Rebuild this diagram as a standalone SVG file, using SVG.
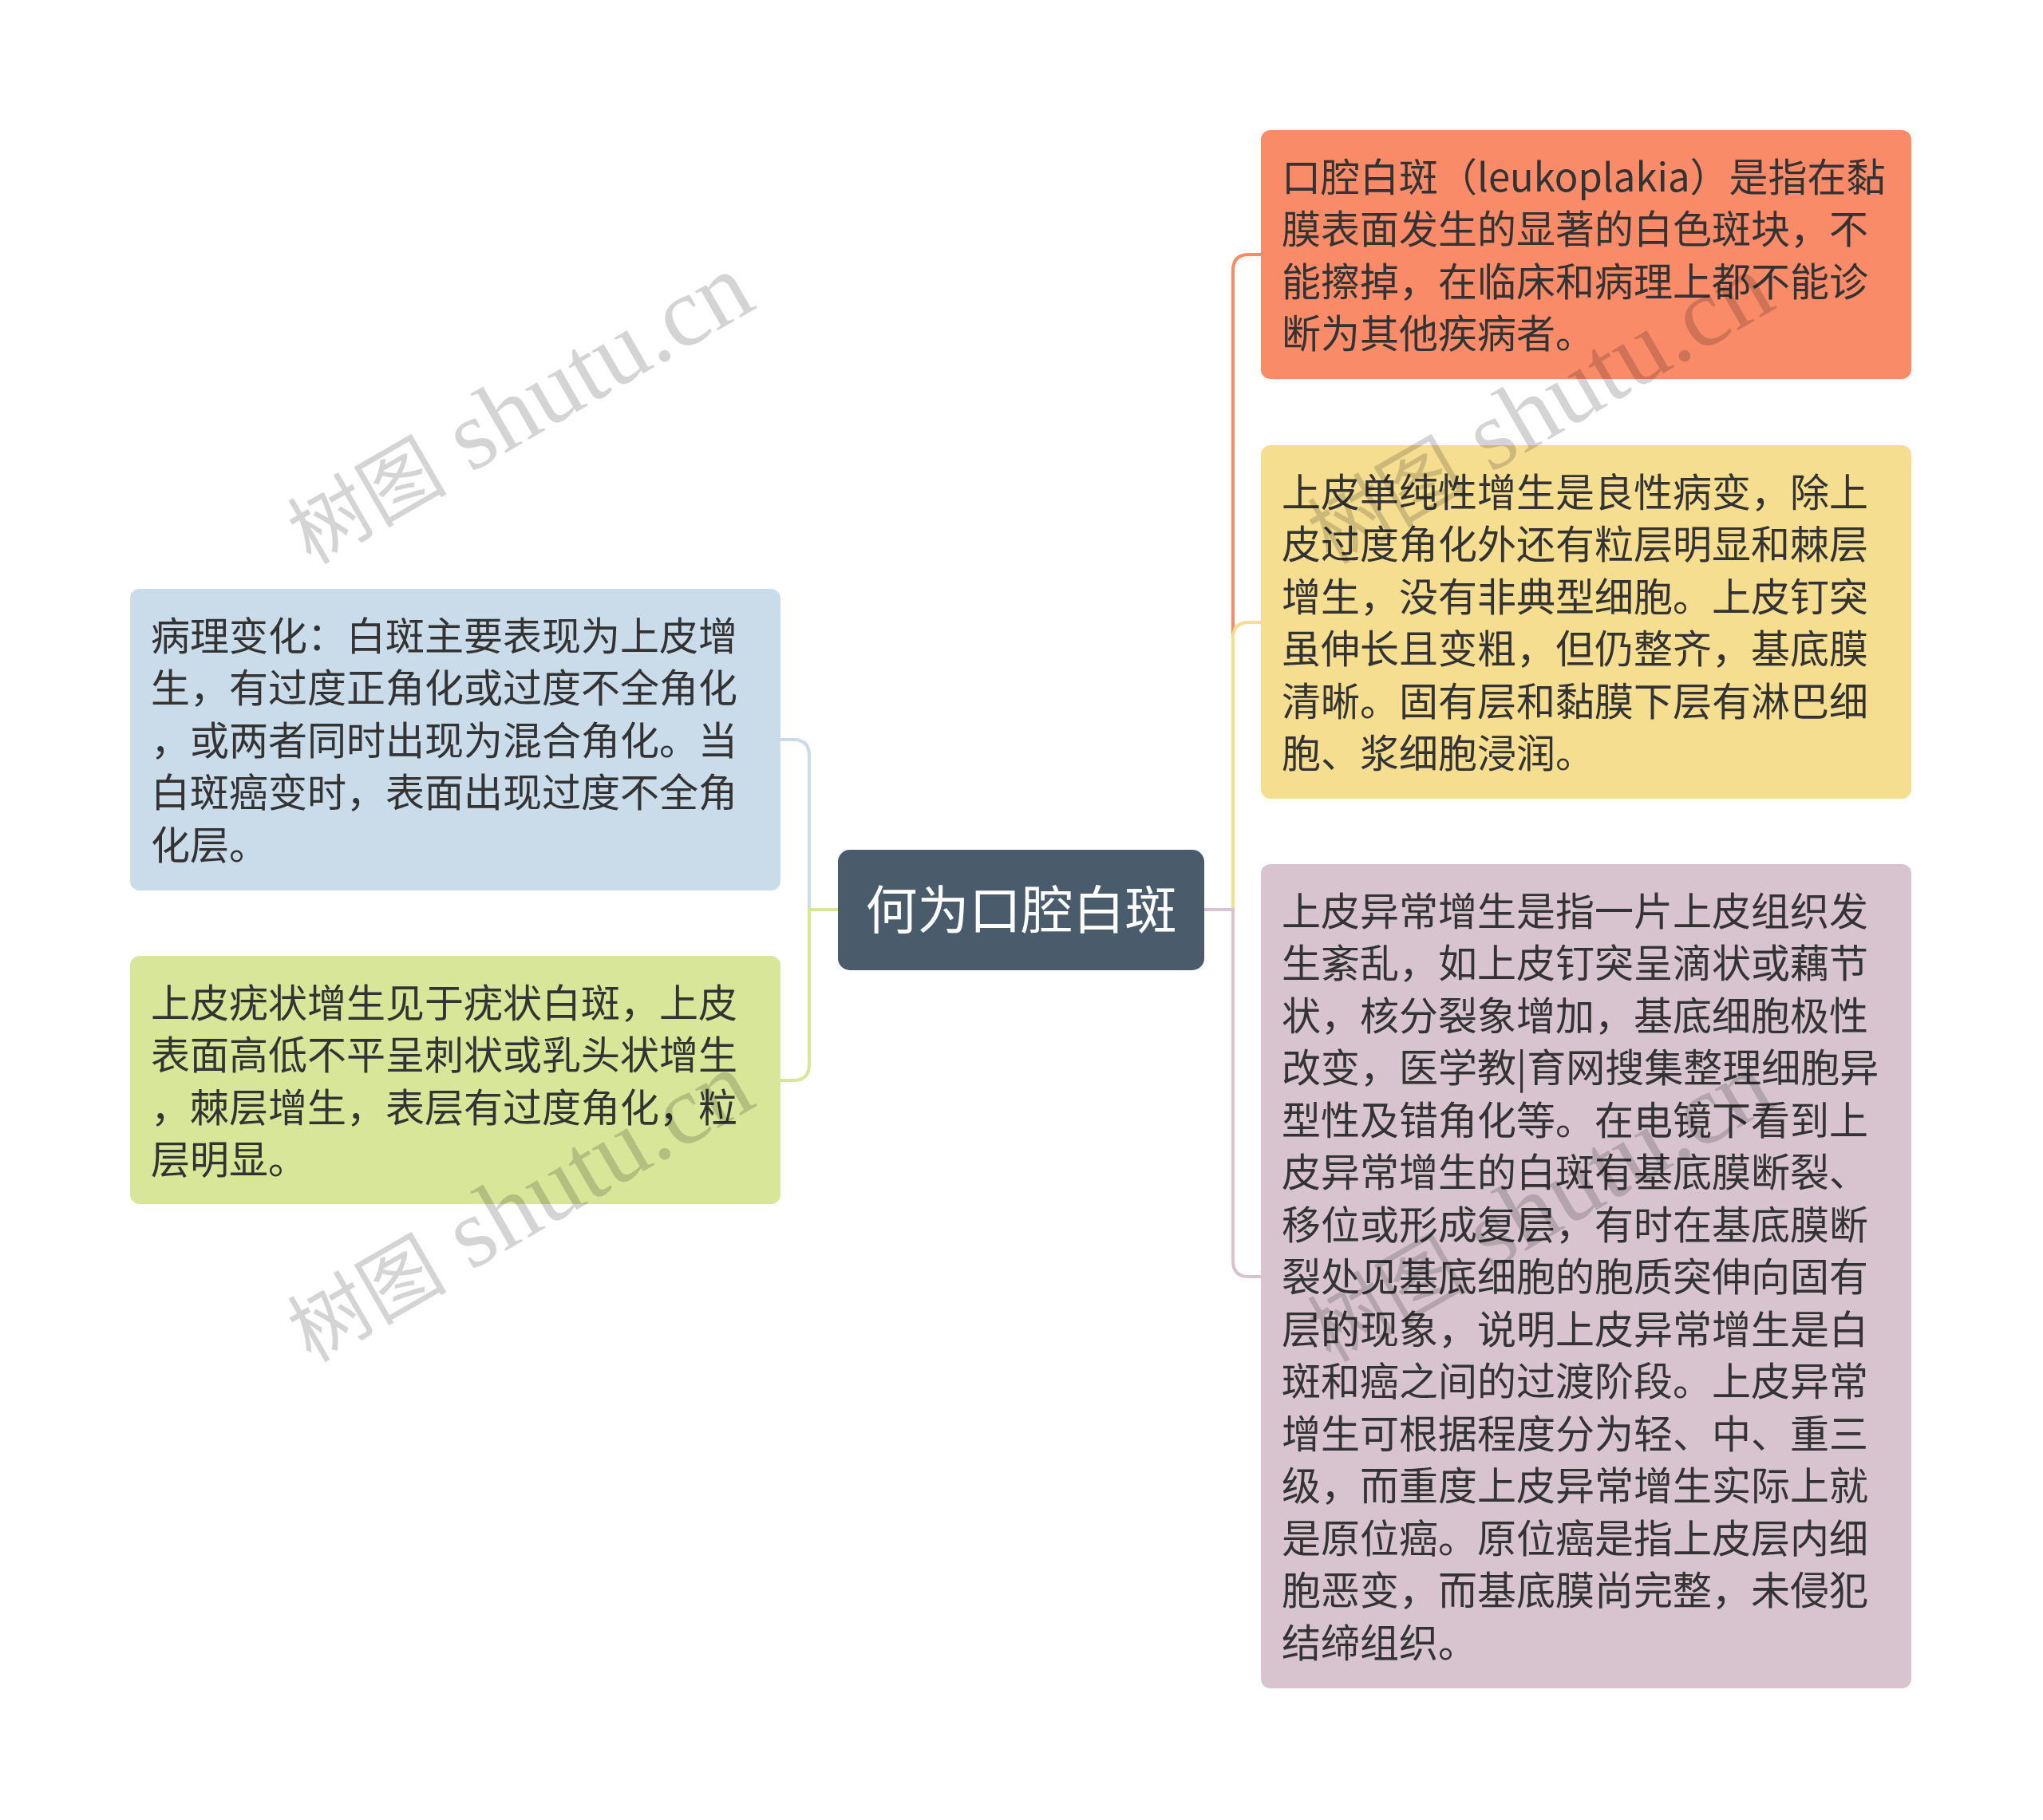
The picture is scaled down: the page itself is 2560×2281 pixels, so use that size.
<svg xmlns="http://www.w3.org/2000/svg" width="2560" height="2281" viewBox="0 0 2560 2281">
<style>
.t{font-family:"Noto Sans CJK SC","Noto Sans",sans-serif;font-size:49px;fill:#333333}
.c{font-family:"Noto Sans CJK SC","Noto Sans",sans-serif;font-size:65px;fill:#ffffff}
.ln{fill:none;stroke-width:4;stroke-linejoin:round}
.wm{font-family:"Liberation Serif","Noto Sans CJK SC",serif;font-size:124px;fill:#000000;fill-opacity:0.17}
.wc{font-size:100px}
</style>
<rect x="0" y="0" width="2560" height="2281" fill="#ffffff"/>
<g id="connectors">
<path class="ln" stroke="#F98B69" d="M1509,1140 H1545 V339 Q1545,319 1565,319 H1580"/>
<path class="ln" stroke="#F6DE91" d="M1509,1140 H1545 V800 Q1545,780 1565,780 H1580"/>
<path class="ln" stroke="#D8C4CE" d="M1509,1140 H1545 V1580 Q1545,1600 1565,1600 H1580"/>
<path class="ln" stroke="#CADBEA" d="M1050,1140 H1014 V947 Q1014,927 994,927 H978"/>
<path class="ln" stroke="#D8E699" d="M1050,1140 H1014 V1334 Q1014,1354 994,1354 H978"/>
</g>
<g id="center">
<rect x="1050" y="1065" width="459" height="151" rx="15" fill="#4A5B6B"/>
<text class="c" x="1279.5" y="1164" text-anchor="middle">何为口腔白斑</text>
</g>
<g id="r1">
<rect x="1580" y="163" width="815" height="312" rx="12" fill="#F98B69"/>
<text class="t" x="1606" y="239.6">口腔白斑（leukoplakia）是指在黏<tspan x="1606" dy="65.5">膜表面发生的显著的白色斑块，不</tspan><tspan x="1606" dy="65.5">能擦掉，在临床和病理上都不能诊</tspan><tspan x="1606" dy="65.5">断为其他疾病者。</tspan></text>
</g>
<g id="r2">
<rect x="1580" y="558" width="815" height="443" rx="12" fill="#F6DE91"/>
<text class="t" x="1606" y="634.6">上皮单纯性增生是良性病变，除上<tspan x="1606" dy="65.5">皮过度角化外还有粒层明显和棘层</tspan><tspan x="1606" dy="65.5">增生，没有非典型细胞。上皮钉突</tspan><tspan x="1606" dy="65.5">虽伸长且变粗，但仍整齐，基底膜</tspan><tspan x="1606" dy="65.5">清晰。固有层和黏膜下层有淋巴细</tspan><tspan x="1606" dy="65.5">胞、浆细胞浸润。</tspan></text>
</g>
<g id="r3">
<rect x="1580" y="1083" width="815" height="1033" rx="12" fill="#D8C4CE"/>
<text class="t" x="1606" y="1159.6">上皮异常增生是指一片上皮组织发<tspan x="1606" dy="65.5">生紊乱，如上皮钉突呈滴状或藕节</tspan><tspan x="1606" dy="65.5">状，核分裂象增加，基底细胞极性</tspan><tspan x="1606" dy="65.5">改变，医学教|育网搜集整理细胞异</tspan><tspan x="1606" dy="65.5">型性及错角化等。在电镜下看到上</tspan><tspan x="1606" dy="65.5">皮异常增生的白斑有基底膜断裂、</tspan><tspan x="1606" dy="65.5">移位或形成复层，有时在基底膜断</tspan><tspan x="1606" dy="65.5">裂处见基底细胞的胞质突伸向固有</tspan><tspan x="1606" dy="65.5">层的现象，说明上皮异常增生是白</tspan><tspan x="1606" dy="65.5">斑和癌之间的过渡阶段。上皮异常</tspan><tspan x="1606" dy="65.5">增生可根据程度分为轻、中、重三</tspan><tspan x="1606" dy="65.5">级，而重度上皮异常增生实际上就</tspan><tspan x="1606" dy="65.5">是原位癌。原位癌是指上皮层内细</tspan><tspan x="1606" dy="65.5">胞恶变，而基底膜尚完整，未侵犯</tspan><tspan x="1606" dy="65.5">结缔组织。</tspan></text>
</g>
<g id="l1">
<rect x="163" y="738" width="815" height="378" rx="12" fill="#CADBEA"/>
<text class="t" x="189" y="814.6">病理变化：白斑主要表现为上皮增<tspan x="189" dy="65.5">生，有过度正角化或过度不全角化</tspan><tspan x="189" dy="65.5">，或两者同时出现为混合角化。当</tspan><tspan x="189" dy="65.5">白斑癌变时，表面出现过度不全角</tspan><tspan x="189" dy="65.5">化层。</tspan></text>
</g>
<g id="l2">
<rect x="163" y="1198" width="815" height="311" rx="12" fill="#D8E699"/>
<text class="t" x="189" y="1274.6">上皮疣状增生见于疣状白斑，上皮<tspan x="189" dy="65.5">表面高低不平呈刺状或乳头状增生</tspan><tspan x="189" dy="65.5">，棘层增生，表层有过度角化，粒</tspan><tspan x="189" dy="65.5">层明显。</tspan></text>
</g>
<g id="watermarks">
<text class="wm" text-anchor="middle" transform="translate(650,512) rotate(-30)" y="40"><tspan class="wc">树图</tspan> shutu.cn</text>
<text class="wm" text-anchor="middle" transform="translate(650,1512) rotate(-30)" y="40"><tspan class="wc">树图</tspan> shutu.cn</text>
<text class="wm" text-anchor="middle" transform="translate(1928,512) rotate(-30)" y="40"><tspan class="wc">树图</tspan> shutu.cn</text>
<text class="wm" text-anchor="middle" transform="translate(1928,1512) rotate(-30)" y="40"><tspan class="wc">树图</tspan> shutu.cn</text>
</g>
</svg>
